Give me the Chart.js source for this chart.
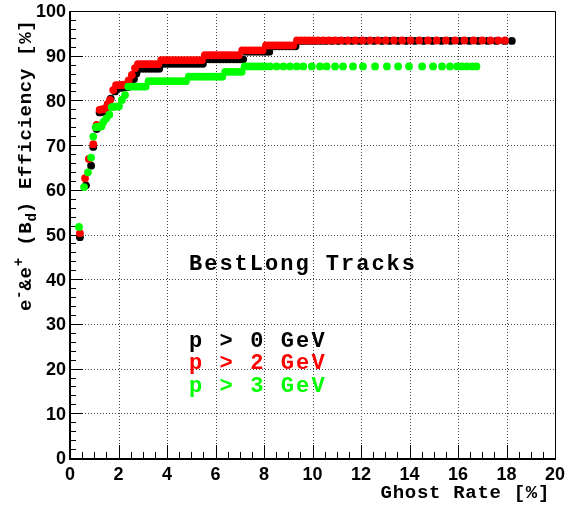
<!DOCTYPE html>
<html>
<head>
<meta charset="utf-8">
<script src="https://cdn.jsdelivr.net/npm/chart.js@4"></script>
<style>
  html, body { margin: 0; padding: 0; background: #fff; }
  canvas { display: block; }
</style>
</head>
<body>
<canvas id="effChart" width="575" height="507"></canvas>
<script>
// axis ticks
const xTicks = [0, 2, 4, 6, 8, 10, 12, 14, 16, 18, 20];
const yTicks = [0, 10, 20, 30, 40, 50, 60, 70, 80, 90, 100];

// p > 0 GeV
const allX = [
  0.41, 0.66, 0.87, 0.96, 1.10, 1.22, 1.30, 1.38, 1.46, 1.55, 1.68, 1.86, 1.98, 2.08, 2.18, 2.28, 2.39, 2.52, 2.64, 2.74,
  2.84, 2.96, 3.08, 3.20, 3.32, 3.44, 3.56, 3.68,
  3.80, 3.94, 4.08, 4.22, 4.36, 4.50, 4.64, 4.78, 4.92, 5.06, 5.20, 5.34, 5.48,
  5.62, 5.76, 5.90, 6.04, 6.18, 6.32, 6.46, 6.60, 6.74, 6.88, 7.02, 7.14,
  7.26, 7.40, 7.54, 7.68, 7.82, 7.96, 8.10, 8.22,
  8.34, 8.48, 8.62, 8.76, 8.90, 9.04, 9.18, 9.30,
  9.44, 9.60, 9.78, 9.96, 10.14, 10.34, 10.56, 10.80, 11.06, 11.34,
  11.62, 11.92, 12.22, 12.54, 12.86, 13.18, 13.52, 13.86, 14.22, 14.58,
  14.94, 15.32, 15.70, 16.08, 16.46, 16.84, 17.22, 17.58, 17.92, 18.22
];
const allY = [
  49.4, 61.0, 65.4, 69.6, 73.6, 77.3, 77.4, 77.5, 77.6, 79.0, 80.4, 82.0, 82.8, 82.8, 82.9, 82.9, 83.0, 84.0, 84.8, 86.0,
  87.1, 87.1, 87.1, 87.1, 87.1, 87.1, 87.1, 87.1,
  88.2, 88.2, 88.2, 88.2, 88.2, 88.2, 88.2, 88.2, 88.2, 88.2, 88.2, 88.2, 88.2,
  89.2, 89.2, 89.2, 89.2, 89.2, 89.2, 89.2, 89.2, 89.2, 89.2, 89.2, 89.2,
  90.9, 90.9, 90.9, 90.9, 90.9, 90.9, 90.9, 90.9,
  92.1, 92.1, 92.1, 92.1, 92.1, 92.1, 92.1, 92.1,
  93.3, 93.3, 93.3, 93.3, 93.3, 93.3, 93.3, 93.3, 93.3, 93.3,
  93.3, 93.3, 93.3, 93.3, 93.3, 93.3, 93.3, 93.3, 93.3, 93.3,
  93.3, 93.3, 93.3, 93.3, 93.3, 93.3, 93.3, 93.3, 93.3, 93.3
];

// p > 2 GeV
const p2X = [
  0.41, 0.62, 0.78, 0.96, 1.10, 1.22, 1.30, 1.38, 1.46, 1.56, 1.65, 1.78, 1.90, 2.00, 2.10, 2.20, 2.30, 2.42, 2.55, 2.68,
  2.80, 2.92, 3.04, 3.16, 3.28, 3.40, 3.52, 3.64,
  3.76, 3.90, 4.04, 4.18, 4.32, 4.46, 4.60, 4.74, 4.88, 5.02, 5.16, 5.30, 5.44,
  5.56, 5.70, 5.84, 5.98, 6.12, 6.26, 6.40, 6.54, 6.68, 6.82, 6.96,
  7.10, 7.24, 7.38, 7.52, 7.66, 7.80, 7.94,
  8.08, 8.22, 8.36, 8.50, 8.64, 8.78, 8.92, 9.06, 9.20,
  9.36, 9.52, 9.68, 9.84, 10.02, 10.22, 10.44, 10.68, 10.92, 11.18,
  11.46, 11.76, 12.06, 12.38, 12.70, 13.02, 13.36, 13.70, 14.04, 14.40,
  14.76, 15.12, 15.50, 15.88, 16.26, 16.64, 17.00, 17.34, 17.66, 17.94
];
const p2Y = [
  50.3, 62.6, 66.9, 70.2, 74.5, 77.9, 78.0, 78.0, 78.2, 79.2, 80.1, 82.3, 83.4, 83.4, 83.4, 83.5, 83.5, 84.5, 85.7, 87.2,
  88.1, 88.1, 88.1, 88.1, 88.1, 88.1, 88.1, 88.1,
  89.0, 89.0, 89.0, 89.0, 89.0, 89.0, 89.0, 89.0, 89.0, 89.0, 89.0, 89.0, 89.0,
  90.1, 90.1, 90.1, 90.1, 90.1, 90.1, 90.1, 90.1, 90.1, 90.1, 90.1,
  91.2, 91.2, 91.2, 91.2, 91.2, 91.2, 91.2,
  92.3, 92.3, 92.3, 92.3, 92.3, 92.3, 92.3, 92.3, 92.3,
  93.4, 93.4, 93.4, 93.4, 93.4, 93.4, 93.4, 93.4, 93.4, 93.4,
  93.4, 93.4, 93.4, 93.4, 93.4, 93.4, 93.4, 93.4, 93.4, 93.4,
  93.4, 93.4, 93.4, 93.4, 93.4, 93.4, 93.4, 93.4, 93.4, 93.4
];

// p > 3 GeV
const p3X = [
  0.37, 0.58, 0.74, 0.87, 0.96, 1.06, 1.14, 1.22, 1.30, 1.38, 1.50, 1.62, 1.72, 1.82, 1.92, 2.02, 2.14, 2.27,
  2.40, 2.52, 2.64, 2.76, 2.88, 3.00, 3.12,
  3.24, 3.38, 3.52, 3.66, 3.80, 3.94, 4.08, 4.22, 4.36, 4.50, 4.64, 4.78,
  4.90, 5.04, 5.18, 5.32, 5.46, 5.60, 5.74, 5.88, 6.02, 6.16, 6.28,
  6.40, 6.54, 6.68, 6.82, 6.96, 7.08,
  7.20, 7.34, 7.48, 7.62, 7.76, 7.90, 8.04,
  8.25, 8.52, 8.80, 9.07, 9.35, 9.62, 9.97, 10.31, 10.58,
  10.93, 11.26, 11.67, 12.08, 12.58, 13.07, 13.53, 13.98, 14.52, 14.97,
  15.34, 15.67, 15.96, 16.16, 16.37, 16.58, 16.76
];
const p3Y = [
  51.7, 60.6, 63.9, 67.2, 71.9, 74.0, 74.1, 74.1, 74.2, 75.2, 76.0, 76.8, 78.5, 78.6, 78.6, 78.7, 80.1, 81.2,
  83.1, 83.1, 83.1, 83.1, 83.1, 83.1, 83.1,
  84.3, 84.3, 84.3, 84.3, 84.3, 84.3, 84.3, 84.3, 84.3, 84.3, 84.3, 84.3,
  85.3, 85.3, 85.3, 85.3, 85.3, 85.3, 85.3, 85.3, 85.3, 85.3, 85.3,
  86.4, 86.4, 86.4, 86.4, 86.4, 86.4,
  87.6, 87.6, 87.6, 87.6, 87.6, 87.6, 87.6,
  87.6, 87.6, 87.6, 87.6, 87.6, 87.6, 87.6, 87.6, 87.6,
  87.6, 87.6, 87.6, 87.6, 87.6, 87.6, 87.6, 87.6, 87.6, 87.6,
  87.6, 87.6, 87.6, 87.6, 87.6, 87.6, 87.6
];

const legendRows = ['p > 0 GeV', 'p > 2 GeV', 'p > 3 GeV'];
const legendColors = ['#000000', '#ff0000', '#00ff00'];

function toPoints(xs, ys) {
  return xs.map((x, i) => ({ x: x, y: ys[i] }));
}

const MONO = '"Liberation Mono", "DejaVu Sans Mono", monospace';
const SANS = '"Liberation Sans", Arial, sans-serif';

// fixed-pitch text, one glyph per cell
function drawMono(ctx, str, x, y, pitch) {
  for (let i = 0; i < str.length; i++) {
    ctx.fillText(str[i], x + i * pitch, y);
  }
  return x + str.length * pitch;
}

// grid, frame and ticks under the markers
const framePlugin = {
  id: 'rootFrame',
  beforeDatasetsDraw(chart) {
    const { ctx, chartArea: a, scales: { x, y } } = chart;
    ctx.save();

    // dotted grid
    ctx.strokeStyle = '#444';
    ctx.lineWidth = 1;
    ctx.setLineDash([1, 2]);
    xTicks.slice(1, -1).forEach(v => {
      const px = Math.round(x.getPixelForValue(v)) + 0.5;
      ctx.beginPath(); ctx.moveTo(px, a.top); ctx.lineTo(px, a.bottom); ctx.stroke();
    });
    yTicks.slice(1, -1).forEach(v => {
      const py = Math.round(y.getPixelForValue(v)) + 0.5;
      ctx.beginPath(); ctx.moveTo(a.left, py); ctx.lineTo(a.right, py); ctx.stroke();
    });
    ctx.setLineDash([]);

    // ticks
    ctx.strokeStyle = '#000';
    ctx.lineWidth = 1;
    for (let v = 0; v <= 20; v += 0.5) {
      const px = Math.round(x.getPixelForValue(v)) + 0.5;
      const len = (v % 2 === 0) ? 13 : 6;
      ctx.beginPath(); ctx.moveTo(px, a.bottom); ctx.lineTo(px, a.bottom - len); ctx.stroke();
    }
    for (let v = 0; v <= 100; v += 2) {
      const py = Math.round(y.getPixelForValue(v)) + 0.5;
      const len = (v % 10 === 0) ? 13 : 6;
      ctx.beginPath(); ctx.moveTo(a.left, py); ctx.lineTo(a.left + len, py); ctx.stroke();
    }

    // frame: thin top/right, heavy axes
    ctx.beginPath();
    ctx.moveTo(a.left, a.top + 0.5); ctx.lineTo(a.right + 0.5, a.top + 0.5);
    ctx.lineTo(a.right + 0.5, a.bottom);
    ctx.stroke();
    ctx.lineWidth = 2;
    ctx.beginPath();
    ctx.moveTo(a.left, a.top); ctx.lineTo(a.left, a.bottom + 1);
    ctx.lineTo(a.right + 1, a.bottom + 1);
    ctx.stroke();
    ctx.restore();
  },
  afterDraw(chart) {
    const { ctx, chartArea: a, scales: { x, y } } = chart;
    ctx.save();
    ctx.fillStyle = '#000';

    // tick labels
    ctx.font = 'bold 18px ' + SANS;
    ctx.textAlign = 'center';
    ctx.textBaseline = 'alphabetic';
    xTicks.forEach(v => ctx.fillText(String(v), x.getPixelForValue(v), a.bottom + 22));
    ctx.textAlign = 'right';
    ctx.textBaseline = 'middle';
    yTicks.forEach(v => ctx.fillText(String(v), a.left - 4, y.getPixelForValue(v) + 1.5));

    // axis titles
    ctx.textAlign = 'left';
    ctx.textBaseline = 'alphabetic';
    ctx.font = 'bold 19px ' + MONO;
    const xTitle = 'Ghost Rate [%]';
    drawMono(ctx, xTitle, 550 - xTitle.length * 12.1, 498, 12.1);

    ctx.save();
    ctx.translate(31, 311);
    ctx.rotate(-Math.PI / 2);
    const big = 'bold 19px ' + MONO;
    const small = 'bold 14px ' + MONO;
    let cx = 0;
    ctx.font = big;   cx = drawMono(ctx, 'e', cx, 0, 12.1);
    ctx.font = small; cx = drawMono(ctx, '-', cx, -8, 8.4);
    ctx.font = big;   cx = drawMono(ctx, '&e', cx, 0, 12.1);
    ctx.font = small; cx = drawMono(ctx, '+', cx, -8, 8.4);
    ctx.font = big;   cx = drawMono(ctx, ' (B', cx, 0, 12.1);
    ctx.font = small; cx = drawMono(ctx, 'd', cx, 5, 8.4);
    ctx.font = big;   cx = drawMono(ctx, ') Efficiency [%]', cx, 0, 12.1);
    ctx.restore();

    // labels inside the frame
    ctx.font = 'bold 22px ' + MONO;
    ctx.fillStyle = '#000';
    drawMono(ctx, 'BestLong Tracks', 189, 270, 15.2);
    const rowBase = [347, 369, 392];
    legendRows.forEach((t, i) => {
      ctx.fillStyle = legendColors[i];
      drawMono(ctx, t, 189, rowBase[i], 15.3);
    });
    ctx.restore();
  }
};

const ctx = document.getElementById('effChart');
const marker = { pointRadius: 3.9, pointBorderWidth: 0, pointHoverRadius: 3.9, showLine: false };

new Chart(ctx, {
  type: 'scatter',
  data: {
    datasets: [
      Object.assign({ label: 'p > 3 GeV', data: toPoints(p3X, p3Y), backgroundColor: '#00ff00', borderColor: '#00ff00' }, marker),
      Object.assign({ label: 'p > 2 GeV', data: toPoints(p2X, p2Y), backgroundColor: '#ff0000', borderColor: '#ff0000' }, marker),
      Object.assign({ label: 'p > 0 GeV', data: toPoints(allX, allY), backgroundColor: '#000000', borderColor: '#000000' }, marker)
    ]
  },
  options: {
    responsive: false,
    animation: false,
    events: [],
    layout: { padding: { left: 70, right: 20, top: 11, bottom: 49 } },
    plugins: { legend: { display: false }, tooltip: { enabled: false } },
    scales: {
      x: { type: 'linear', min: 0, max: 20, display: false },
      y: { type: 'linear', min: 0, max: 100, display: false }
    }
  },
  plugins: [framePlugin]
});
</script>
</body>
</html>
